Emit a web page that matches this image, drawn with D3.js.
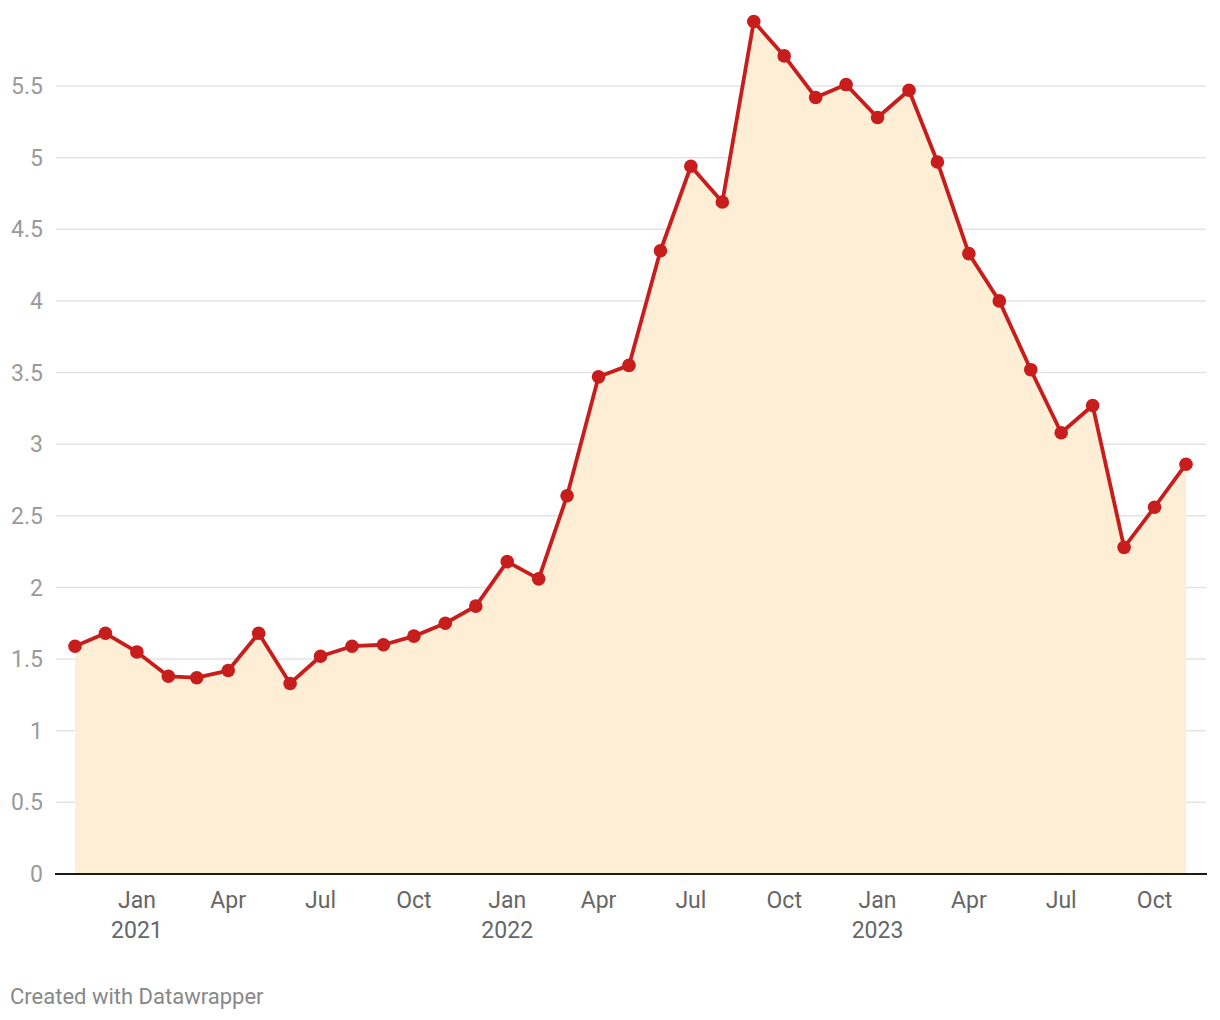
<!DOCTYPE html>
<html><head><meta charset="utf-8">
<script src="https://cdn.jsdelivr.net/npm/d3@7"></script>
<style>
html,body{margin:0;padding:0;background:#fff;}
svg{display:block;font-family:Roboto,sans-serif;}
</style></head>
<body>
<svg id="chart" width="1220" height="1020"></svg>
<script>
const months = ["2020-11","2020-12","2021-01","2021-02","2021-03","2021-04","2021-05","2021-06","2021-07","2021-08","2021-09","2021-10","2021-11","2021-12","2022-01","2022-02","2022-03","2022-04","2022-05","2022-06","2022-07","2022-08","2022-09","2022-10","2022-11","2022-12","2023-01","2023-02","2023-03","2023-04","2023-05","2023-06","2023-07","2023-08","2023-09","2023-10","2023-11"];
const values = [1.59,1.68,1.55,1.38,1.37,1.42,1.68,1.33,1.52,1.59,1.60,1.66,1.75,1.87,2.18,2.06,2.64,3.47,3.55,4.35,4.94,4.69,5.95,5.71,5.42,5.51,5.28,5.47,4.97,4.33,4.00,3.52,3.08,3.27,2.28,2.56,2.86];
const yTicks = [0,0.5,1,1.5,2,2.5,3,3.5,4,4.5,5,5.5];
const xTickDates = ["2021-01","2021-04","2021-07","2021-10","2022-01","2022-04","2022-07","2022-10","2023-01","2023-04","2023-07","2023-10"];

const parse = d3.timeParse("%Y-%m");
const data = months.map((m,i)=>({date:parse(m), value:values[i]}));

const svg = d3.select("#chart");
const x = d3.scaleTime().domain([parse("2020-11"), parse("2023-11")]).range([75,1186]);
const y = d3.scaleLinear().domain([0,5.5]).range([874,86]);

// gridlines
svg.append("g").selectAll("line").data(yTicks.filter(t=>t>0)).join("line")
  .attr("x1",56).attr("x2",1206)
  .attr("y1",d=>y(d)).attr("y2",d=>y(d))
  .attr("stroke","#e3e3e3").attr("stroke-width",1.5);

// y labels
svg.append("g").selectAll("text").data(yTicks).join("text")
  .attr("x",43).attr("y",d=>y(d)).attr("dy","0.35em")
  .attr("text-anchor","end").attr("fill","#9a9a9a")
  .attr("font-size",23).text(d=>d3.format("")(d));

// area
const area = d3.area().x(d=>x(d.date)).y0(y(0)).y1(d=>y(d.value));
svg.append("path").datum(data).attr("d",area).attr("fill","#fdeed5");

// x axis line
svg.append("line").attr("x1",55).attr("x2",1207).attr("y1",y(0)).attr("y2",y(0))
  .attr("stroke","#1a1a1a").attr("stroke-width",2);

// line
const line = d3.line().x(d=>x(d.date)).y(d=>y(d.value));
svg.append("path").datum(data).attr("d",line).attr("fill","none")
  .attr("stroke","#c71e1d").attr("stroke-width",3.8).attr("stroke-linejoin","round");

// dots
svg.append("g").selectAll("circle").data(data).join("circle")
  .attr("cx",d=>x(d.date)).attr("cy",d=>y(d.value)).attr("r",6.8)
  .attr("fill","#c71e1d");

// x labels
const fmtM = d3.timeFormat("%b");
const xg = svg.append("g").selectAll("text").data(xTickDates.map(parse)).join("text")
  .attr("x",d=>x(d)).attr("y",908).attr("text-anchor","middle")
  .attr("fill","#666").attr("font-size",23);
xg.append("tspan").attr("x",d=>x(d)).text(d=>fmtM(d));
xg.filter(d=>d.getMonth()===0).append("tspan").attr("x",d=>x(d)).attr("dy",30).text(d=>d.getFullYear());

// footer
svg.append("text").attr("x",10).attr("y",1004).attr("fill","#888").attr("font-size",22)
  .text("Created with Datawrapper");
</script>
</body></html>
